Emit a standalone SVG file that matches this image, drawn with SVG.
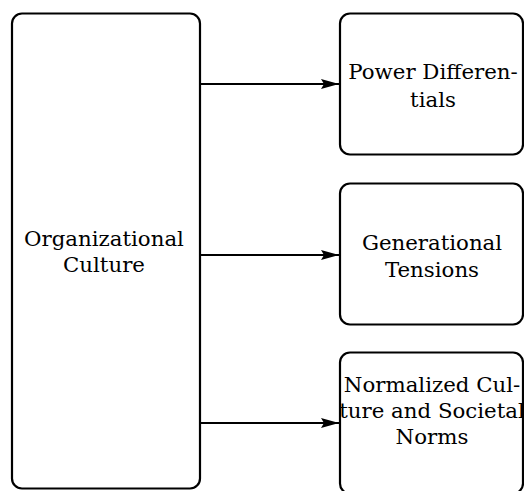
<svg xmlns="http://www.w3.org/2000/svg" width="524" height="491" viewBox="0 0 524 491">
<style>
.box{fill:#fff;stroke:#000;stroke-width:2.2}
.lbl{font-family:"DejaVu Serif","Liberation Serif",serif;font-size:21.3px;fill:#000;text-anchor:middle}
.edge{stroke:#000;stroke-width:2;fill:none}
</style>
<defs>
<marker id="ah" markerUnits="userSpaceOnUse" viewBox="0 0 18 12" refX="18" refY="6" markerWidth="18" markerHeight="12" orient="auto">
<path d="M0,1 L18,6 L0,11 L3,6 Z" fill="#000"/>
</marker>
</defs>
<g id="n-org">
<rect class="box" x="12" y="13.5" width="188" height="475" rx="10"/>
<text class="lbl" x="104" y="245.5">Organizational</text>
<text class="lbl" x="104" y="272">Culture</text>
</g>
<g id="n-power">
<rect class="box" x="340" y="13.5" width="183" height="141" rx="10"/>
<text class="lbl" x="433" y="78.5">Power Differen-</text>
<text class="lbl" x="433" y="107">tials</text>
</g>
<g id="n-gen">
<rect class="box" x="340" y="183.5" width="183" height="141" rx="10"/>
<text class="lbl" x="432" y="250">Generational</text>
<text class="lbl" x="432" y="277">Tensions</text>
</g>
<g id="n-norm">
<rect class="box" x="340" y="352.5" width="183" height="141" rx="10"/>
<text class="lbl" x="432" y="391.5">Normalized Cul-</text>
<text class="lbl" x="432" y="417.5">ture and Societal</text>
<text class="lbl" x="432" y="444">Norms</text>
</g>
<g id="edges">
<line class="edge" x1="201" y1="84" x2="339" y2="84" marker-end="url(#ah)"/>
<line class="edge" x1="201" y1="255" x2="339" y2="255" marker-end="url(#ah)"/>
<line class="edge" x1="201" y1="423" x2="339" y2="423" marker-end="url(#ah)"/>
</g>
</svg>
